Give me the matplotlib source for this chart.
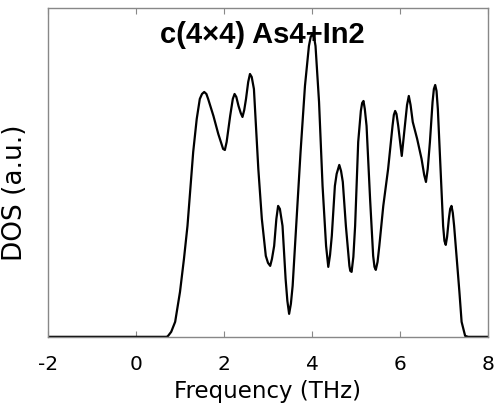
import matplotlib.pyplot as plt

# frequency (THz) and DOS (arbitrary units)
freq = [-2.0, 0.0, 0.70, 0.73, 0.80, 0.89, 1.00, 1.09, 1.17, 1.24, 1.30, 1.38,
        1.45, 1.50, 1.55, 1.60, 1.64, 1.76, 1.87, 1.98, 2.02, 2.06, 2.14,
        2.20, 2.24, 2.28, 2.33, 2.38, 2.42, 2.46, 2.50, 2.55, 2.59, 2.63,
        2.68, 2.78, 2.86, 2.95, 3.00, 3.05, 3.09, 3.14, 3.19, 3.23, 3.27,
        3.33, 3.40, 3.44, 3.48, 3.52, 3.56, 3.65, 3.74, 3.84, 3.93, 3.97,
        4.01, 4.05, 4.08, 4.16, 4.24, 4.32, 4.37, 4.41, 4.45, 4.52, 4.56,
        4.62, 4.66, 4.70, 4.77, 4.85, 4.87, 4.90, 4.94, 4.98, 5.05, 5.11,
        5.14, 5.17, 5.20, 5.24, 5.32, 5.39, 5.42, 5.45, 5.49, 5.53, 5.62,
        5.73, 5.83, 5.86, 5.89, 5.92, 5.96, 6.04, 6.11, 6.16, 6.20, 6.24,
        6.29, 6.39, 6.49, 6.55, 6.59, 6.63, 6.68, 6.74, 6.77, 6.80, 6.83,
        6.86, 6.93, 6.98, 7.01, 7.04, 7.07, 7.11, 7.14, 7.17, 7.20, 7.23,
        7.29, 7.35, 7.40, 7.48, 7.55, 8.0]
dos = [0, 0, 0, 1, 5, 15, 45, 78, 111, 151, 185, 218,
       238, 243, 245, 243, 238, 221, 203, 188, 187, 195, 221,
       238, 243, 240, 231, 224, 220, 227, 238, 255, 263, 260,
       248, 168, 118, 81, 74, 71, 78, 91, 118, 131, 128,
       111, 58, 36, 23, 33, 51, 118, 185, 251, 291, 300,
       303, 299, 291, 235, 151, 91, 70, 82, 101, 151, 163,
       172, 166, 155, 111, 71, 66, 65, 80, 111, 195, 226,
       234, 236, 228, 211, 138, 81, 70, 67, 75, 91, 131,
       168, 211, 222, 226, 223, 211, 181, 211, 232, 241, 232,
       215, 198, 178, 162, 155, 168, 195, 235, 248, 252, 246,
       228, 161, 111, 96, 92, 100, 118, 128, 131, 124, 111,
       78, 45, 15, 1, 0, 0]

title = 'c(4\u00d74) As4+In2'
xticks = [-2, 0, 2, 4, 6, 8]

fig = plt.figure(figsize=(5, 4.1), dpi=100)
ax = fig.add_axes([0.096, 0.176, 0.88, 0.802])

ax.plot(freq, dos, color='black', linewidth=1.6,
        solid_joinstyle='round', solid_capstyle='round')
ax.set_xlim(-2, 8)
ax.set_ylim(0, 329)

ax.set_xticks(xticks)
ax.set_xticklabels([str(t) for t in xticks], fontsize=14.5, family='DejaVu Sans')
ax.set_yticks([])
ax.tick_params(axis='x', direction='in', top=True, length=4, color='#888888', pad=12)
for s in ax.spines.values():
    s.set_color('#888888')
    s.set_linewidth(1.0)

ax.set_xlabel('Frequency (THz)', fontsize=16.5, family='DejaVu Sans', labelpad=5)
ax.set_ylabel('DOS (a.u.)', fontsize=19, family='DejaVu Sans')
ax.yaxis.set_label_coords(-0.045, 0.44)

ax.text(0.486, 0.963, title, transform=ax.transAxes, ha='center', va='top',
        fontsize=21, fontweight='bold', family='Liberation Sans')

fig.savefig('out.png', dpi=100)
